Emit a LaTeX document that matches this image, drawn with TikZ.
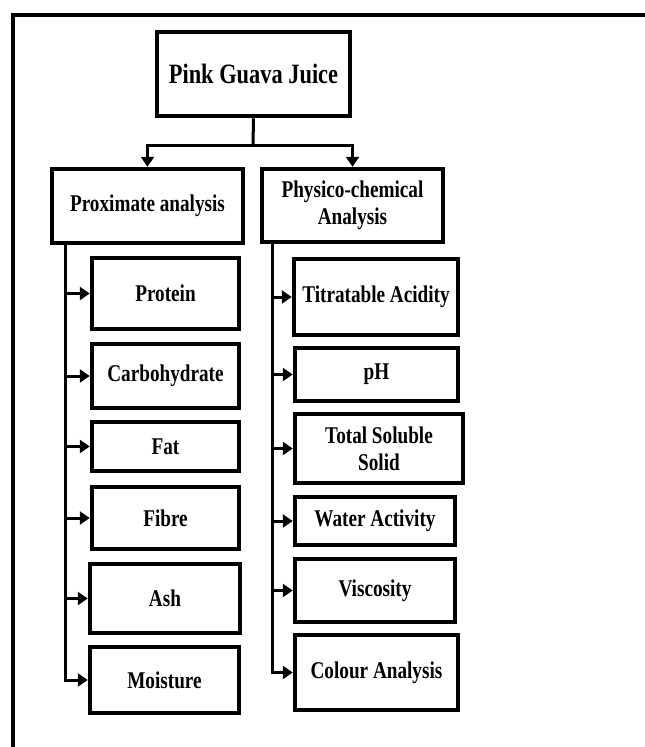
\documentclass[tikz,border=0pt]{standalone}
\usepackage{fontspec}
\setmainfont{Liberation Serif}[FakeStretch=0.8]
\usetikzlibrary{arrows.meta}
\begin{document}
\begin{tikzpicture}[x=1pt,y=-1pt,
  box/.style={draw,line width=4.5pt,align=center,inner sep=0pt,
    font=\bfseries\fontsize{24}{27}\selectfont},
  arr/.style={line width=3pt,-{Triangle[length=10pt,width=13pt]}},
  ln/.style={line width=3pt}]
\useasboundingbox (0,0) rectangle (645,747);
\draw[line width=3.5pt] (13,747) -- (13,15) -- (645,15);

\node[box,minimum width=193pt,minimum height=84pt,font=\bfseries\fontsize{28}{30}\selectfont] (title) at (253.5,74) {Pink Guava Juice};
\node[box,minimum width=191pt,minimum height=74pt] (prox) at (147.5,206) {Proximate analysis};
\node[box,minimum width=181pt,minimum height=73pt] (phys) at (352.5,205.5) {Physico-chemical\\Analysis};

\node[box,minimum width=147pt,minimum height=71pt] (protein) at (165.5,293.5) {Protein};
\node[box,minimum width=147pt,minimum height=64pt] (carb) at (165.5,376) {Carbohydrate};
\node[box,minimum width=147pt,minimum height=49pt] (fat) at (165.5,446.5) {Fat};
\node[box,minimum width=147pt,minimum height=62pt] (fibre) at (165.5,518) {Fibre};
\node[box,minimum width=150pt,minimum height=69pt] (ash) at (165,598.5) {Ash};
\node[box,minimum width=149pt,minimum height=66pt] (moist) at (164.5,680) {Moisture};

\node[box,minimum width=164pt,minimum height=76pt] (titr) at (376,297) {Titratable Acidity};
\node[box,minimum width=163pt,minimum height=53pt] (ph) at (376.5,374.5) {pH};
\node[box,minimum width=168pt,minimum height=69pt] (tss) at (379,448.5) {Total Soluble\\Solid};
\node[box,minimum width=160pt,minimum height=48pt] (water) at (375,521) {Water Activity};
\node[box,minimum width=160pt,minimum height=63pt] (visc) at (375,590.5) {Viscosity};
\node[box,minimum width=163pt,minimum height=75pt] (colour) at (376.5,672.5) {Colour Analysis};

\coordinate (split) at (253,145);
\draw[ln] (title.south) -- (split);
\draw[arr] (split) -| (prox.north);
\draw[arr] (split) -| (phys.north);

\coordinate (lt) at (65,0);
\draw[arr] (prox.south -| lt) |- (moist.west);
\foreach \n in {protein,carb,fat,fibre,ash}
  \draw[arr] (lt |- \n.west) -- (\n.west);

\coordinate (rt) at (272,0);
\draw[arr] (phys.south -| rt) |- (colour.west);
\foreach \n in {titr,ph,tss,water,visc}
  \draw[arr] (rt |- \n.west) -- (\n.west);
\end{tikzpicture}
\end{document}
